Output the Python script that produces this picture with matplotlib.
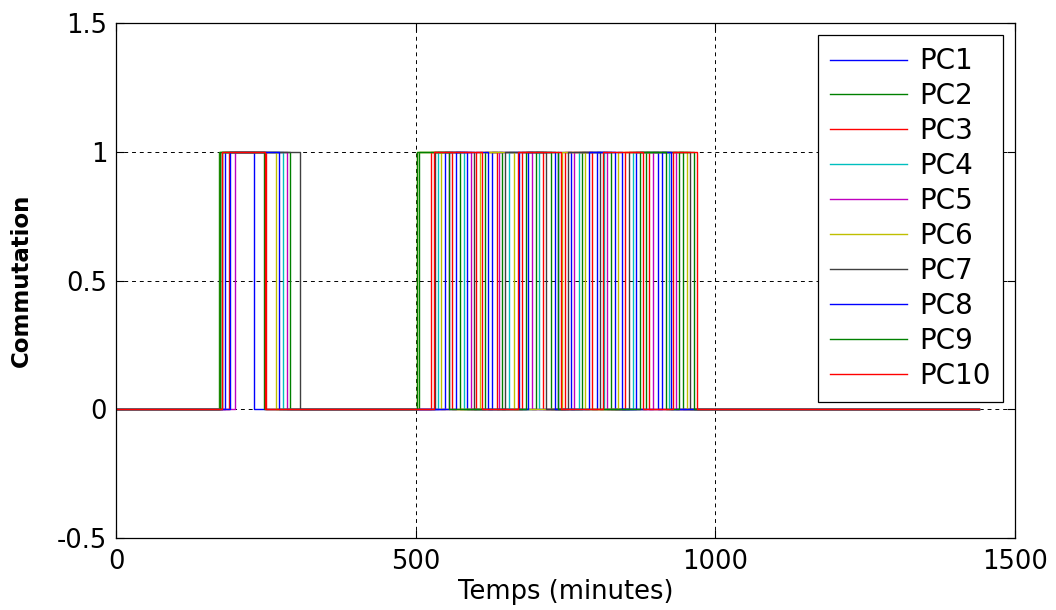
#! python3
# Commutation des PC sur une journee (etat 0/1 en fonction du temps)

import matplotlib
matplotlib.use('Agg')
import matplotlib.pyplot as plt

plt.rcParams['font.family'] = ['DejaVu Sans']
plt.rcParams['axes.unicode_minus'] = False

# Periode simulee (minutes)
T_END = 1440

labels = ['PC1', 'PC2', 'PC3', 'PC4', 'PC5', 'PC6', 'PC7', 'PC8', 'PC9', 'PC10']

# Couleurs par defaut (ordre MATLAB)
colors = ['#0000ff', '#008000', '#ff0000', '#00bfbf', '#bf00bf',
          '#bfbf00', '#404040', '#0000ff', '#008000', '#ff0000']

# Intervalles de marche (debut, fin) en minutes
pc1 = [(182, 230), (549, 586), (628, 672), (738, 760), (802, 832), (868, 904)]
pc2 = [(172, 290), (506, 574), (615, 644), (700, 725), (778, 826), (884, 946)]
pc3 = [(188, 250), (526, 561), (601, 635), (677, 712), (749, 795), (850, 890)]
pc4 = [(176, 278), (538, 580), (656, 705), (772, 815), (862, 922)]
pc5 = [(198, 285), (556, 593), (639, 694), (765, 819), (896, 934)]
pc6 = [(174, 266), (502, 543), (608, 664), (744, 783), (838, 952)]
pc7 = [(176, 307), (532, 597), (649, 718), (755, 808), (856, 957)]
pc8 = [(190, 272), (567, 621), (688, 732), (790, 844), (911, 926)]
pc9 = [(174, 246), (502, 555), (684, 738), (875, 917), (940, 964)]
pc10 = [(176, 249), (531, 610), (670, 742), (812, 880), (930, 970)]
schedules = [pc1, pc2, pc3, pc4, pc5, pc6, pc7, pc8, pc9, pc10]


def step_signal(intervals):
    # Construit le signal 0/1 en escalier a partir des intervalles
    t = [0]
    y = [0]
    for on, off in intervals:
        t += [on, on, off, off]
        y += [0, 1, 1, 0]
    t.append(T_END)
    y.append(0)
    return t, y


fig = plt.figure(figsize=(10.56, 6.10), dpi=100)
ax = fig.add_axes([0.110, 0.118, 0.851, 0.844])

for sched, col, lab in zip(schedules, colors, labels):
    t, y = step_signal(sched)
    ax.plot(t, y, color=col, lw=1.0, label=lab)

ax.set_xlim(0, 1500)
ax.set_ylim(-0.5, 1.5)
ax.set_xticks([0, 500, 1000, 1500])
ax.set_yticks([-0.5, 0, 0.5, 1, 1.5])
ax.set_yticklabels(['-0.5', '0', '0.5', '1', '1.5'])

ax.grid(True, color='black', linestyle=(0, (4, 4)), linewidth=0.7)
ax.tick_params(direction='in', length=6, width=0.8, top=True, right=True,
               labelsize=18.5)
ax.tick_params(axis='x', pad=8)
ax.tick_params(axis='y', pad=6.5)
for sp in ax.spines.values():
    sp.set_linewidth(0.9)
    sp.set_color('black')

ax.set_xlabel('Temps (minutes)', fontsize=18.5, labelpad=3)
ax.set_ylabel('Commutation', fontsize=16.5, fontweight='bold', labelpad=17)

leg = ax.legend(loc='upper right', bbox_to_anchor=(0.950, 0.943),
                bbox_transform=fig.transFigure, borderaxespad=0,
                fontsize=20, handlelength=2.77, handletextpad=0.43,
                labelspacing=0.25, fancybox=False, framealpha=1,
                edgecolor='black', borderpad=0.45)
leg.get_frame().set_linewidth(0.9)

plt.savefig('out.png', dpi=100)
